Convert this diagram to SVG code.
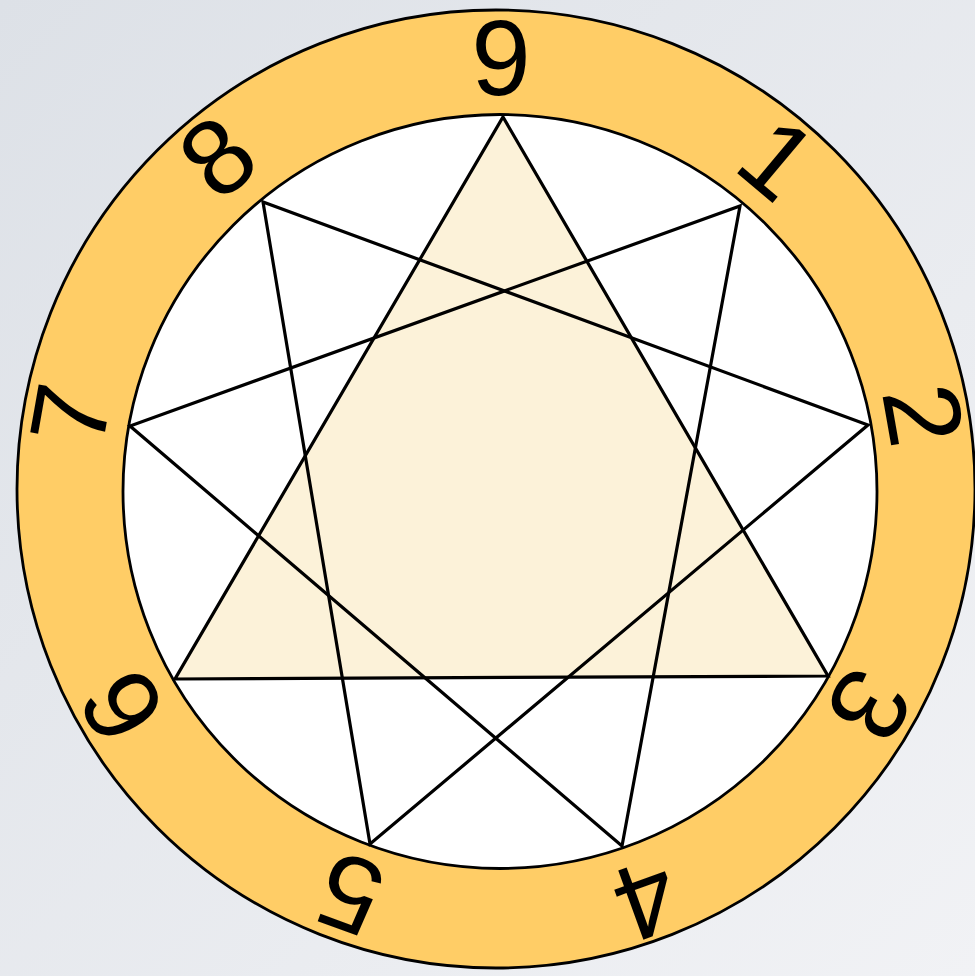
<svg xmlns="http://www.w3.org/2000/svg" width="975" height="976" viewBox="0 0 975 976">
<defs>
<linearGradient id="bg" x1="0" y1="0" x2="1" y2="1">
<stop offset="0" stop-color="#DDE1E7"/>
<stop offset="1" stop-color="#F1F2F5"/>
</linearGradient>
</defs>
<style>
.ring{fill:#FFCD66;stroke:#000;stroke-width:2.8}
.inner{fill:#FFFFFF;stroke:#000;stroke-width:2.8}
.tri{fill:#FCF2D9;stroke:none}
.ln{stroke:#000;stroke-width:3.2;fill:none;stroke-linejoin:miter}
.lbl{font-family:"Liberation Sans",Arial,sans-serif;font-size:107px;fill:#000;text-anchor:middle}
</style>
<rect x="0" y="0" width="975" height="976" fill="url(#bg)"/>
<g id="ring-outer"><circle class="ring" cx="496" cy="489" r="479"/></g>
<g id="ring-inner"><circle class="inner" cx="500" cy="491.5" r="377"/></g>
<g id="triangle-fill"><polygon class="tri" points="503,117 828,676 175,679"/></g>
<g id="connectors">
<polygon class="ln" points="503,117 828,676 175,679"/>
<polygon class="ln" points="740,206 622,846 130,426"/>
<polygon class="ln" points="868,425 370,844 263,202"/>
</g>
<g id="label-9"><text class="lbl" transform="translate(497 490) rotate(0)" x="4" y="-395">9</text></g>
<g id="label-1"><text class="lbl" transform="translate(497 490) rotate(40)" x="2" y="-397">1</text></g>
<g id="label-2"><text class="lbl" transform="translate(497 490) rotate(80)" x="0" y="-396">2</text></g>
<g id="label-3"><text class="lbl" transform="translate(497 490) rotate(120)" x="0" y="-393">3</text></g>
<g id="label-4"><text class="lbl" transform="translate(497 490) rotate(160)" x="0" y="-399">4</text></g>
<g id="label-5"><text class="lbl" transform="translate(497 490) rotate(200)" x="0" y="-393">5</text></g>
<g id="label-6"><text class="lbl" transform="translate(497 490) rotate(240)" x="0" y="-396">6</text></g>
<g id="label-7"><text class="lbl" transform="translate(497 490) rotate(280)" x="0" y="-396">7</text></g>
<g id="label-8"><text class="lbl" transform="translate(497 490) rotate(320)" x="0" y="-398">8</text></g>
</svg>
